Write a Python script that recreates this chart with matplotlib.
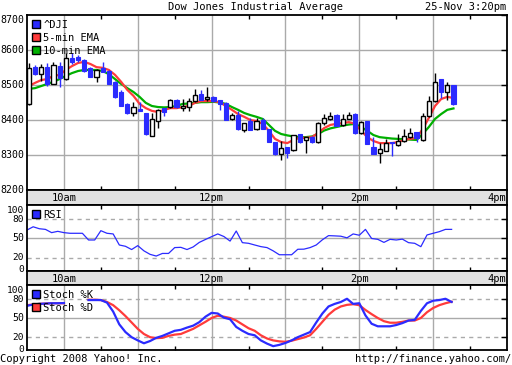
import numpy as np
import matplotlib
matplotlib.use('Agg')
import matplotlib.pyplot as plt
from matplotlib.patches import Patch

plt.rcParams['font.family'] = 'DejaVu Sans Mono'
plt.rcParams['font.size'] = 7

# 5-minute candles from 9:30, minutes after the open
opens = [8446, 8550, 8531, 8551, 8503, 8554, 8517, 8577, 8580, 8571,
         8549, 8524, 8548, 8541, 8509, 8481, 8445, 8419, 8431, 8419,
         8355, 8398, 8433, 8437, 8457, 8434, 8436, 8453, 8474, 8459,
         8466, 8457, 8449, 8402, 8414, 8370, 8398, 8374, 8400, 8374,
         8336, 8303, 8323, 8313, 8359, 8343, 8352, 8337, 8390, 8403,
         8414, 8386, 8402, 8417, 8362, 8397, 8324, 8305, 8312, 8338,
         8328, 8340, 8352, 8365, 8343, 8410, 8453, 8516, 8479, 8499]
highs = [8563, 8557, 8560, 8563, 8567, 8566, 8591, 8591, 8586, 8573,
         8551, 8545, 8566, 8543, 8510, 8486, 8448, 8452, 8451, 8421,
         8420, 8430, 8434, 8459, 8460, 8459, 8462, 8488, 8486, 8494,
         8468, 8457, 8450, 8421, 8427, 8392, 8407, 8406, 8406, 8375,
         8337, 8339, 8324, 8357, 8361, 8352, 8353, 8393, 8416, 8424,
         8416, 8417, 8424, 8420, 8397, 8398, 8350, 8333, 8345, 8338,
         8360, 8375, 8376, 8366, 8420, 8468, 8533, 8518, 8509, 8500]
lows = [8443, 8528, 8511, 8497, 8502, 8494, 8515, 8560, 8566, 8538,
        8524, 8509, 8536, 8502, 8464, 8440, 8416, 8412, 8426, 8358,
        8355, 8378, 8411, 8433, 8434, 8427, 8425, 8452, 8456, 8454,
        8451, 8429, 8399, 8401, 8372, 8366, 8370, 8371, 8373, 8336,
        8300, 8286, 8290, 8312, 8335, 8307, 8335, 8333, 8386, 8400,
        8384, 8384, 8402, 8360, 8360, 8330, 8302, 8278, 8310, 8297,
        8327, 8338, 8348, 8336, 8340, 8408, 8452, 8462, 8457, 8444]
closes = [8549, 8530, 8550, 8503, 8556, 8521, 8576, 8566, 8571, 8540,
          8524, 8543, 8537, 8503, 8465, 8440, 8419, 8436, 8426, 8360,
          8402, 8428, 8422, 8457, 8438, 8441, 8454, 8471, 8457, 8466,
          8453, 8445, 8400, 8414, 8373, 8390, 8372, 8398, 8374, 8336,
          8302, 8321, 8307, 8356, 8336, 8350, 8336, 8391, 8406, 8411,
          8384, 8402, 8414, 8362, 8395, 8330, 8303, 8317, 8333, 8335,
          8340, 8354, 8362, 8348, 8411, 8454, 8509, 8479, 8501, 8445]

ema5 = [8497, 8506, 8514, 8517, 8526, 8529, 8543, 8554, 8563, 8566,
        8560, 8551, 8549, 8543, 8529, 8509, 8486, 8469, 8446, 8434,
        8426, 8423, 8429, 8434, 8434, 8437, 8440, 8449, 8454, 8454,
        8454, 8451, 8440, 8429, 8417, 8409, 8400, 8397, 8389, 8369,
        8346, 8337, 8334, 8343, 8349, 8349, 8351, 8363, 8377, 8386,
        8389, 8391, 8394, 8389, 8369, 8351, 8340, 8334, 8334, 8334,
        8337, 8343, 8346, 8349, 8374, 8406, 8440, 8460, 8466, 8463]
ema10 = [8489, 8491, 8497, 8503, 8509, 8517, 8526, 8534, 8540, 8543,
         8543, 8543, 8540, 8531, 8517, 8503, 8491, 8480, 8466, 8449,
         8440, 8437, 8436, 8437, 8440, 8446, 8447, 8449, 8451, 8451,
         8452, 8450, 8446, 8437, 8429, 8420, 8414, 8409, 8403, 8386,
         8369, 8360, 8356, 8353, 8351, 8351, 8353, 8360, 8370, 8376,
         8380, 8384, 8387, 8389, 8380, 8369, 8357, 8351, 8349, 8347,
         8346, 8345, 8344, 8343, 8360, 8380, 8403, 8417, 8429, 8433]

rsi = [63, 68, 65, 64, 59, 61, 59, 58, 58, 58,
       47.7, 47.7, 62, 58, 57, 40, 38, 33, 39, 31,
       25.6, 23, 27, 27, 36, 36.4, 33, 37, 44, 48.5,
       52.8, 57, 53, 46, 61.5, 43.6, 42.6, 40, 37.5, 36,
       31, 25, 25, 25, 33.4, 33.6, 36, 40, 48, 54.4,
       54, 53.5, 51, 57, 55, 64, 50, 48.7, 44, 48.7,
       47.7, 49, 43.6, 42.6, 37.4, 55.4, 58, 60.5, 64, 64]

nan = np.nan
stoch_k = [69, 71, 72, 72.5, 73, 73, 73.3, nan, nan, nan,
           78, 78, 78, 74, 60, 40, 28, 20, 15, 10.5,
           14, 19, 22, 26, 30, 31.5, 35, 38, 43.5, 52,
           58, 57, 50.5, 48, 36, 30, 25, 23, 15, 10,
           6, 8, 11, 15, 20, 24, 28, 43, 57, 68,
           72, 75, 80, 72, 73, 54, 41, 37, 37, 37,
           39, 42, 46, 47, 61, 73, 77, 78, 80, 75]
stoch_d = [70, 71, 72, 72.5, 73, 73, 73, nan, nan, nan,
           78.5, 78.5, 78, 75, 70, 62, 53, 43, 33, 25,
           20, 18.5, 19, 22, 24, 25, 29, 33, 38.5, 44,
           50, 53.5, 52, 50, 46, 40, 34, 30, 23, 18,
           15, 13.5, 12.8, 14.5, 17, 19.5, 23, 33, 44, 55,
           63, 68, 70.5, 71.5, 70, 62.5, 56, 50, 45, 42.6,
           42.6, 44, 46, 46, 50, 59, 65.6, 70, 73, 75.4]

hour_ticks = [30, 90, 150, 210, 270, 330]
half_ticks = [60, 120, 180, 240, 300, 360]
band_labels = {30: '10am', 150: '12pm', 270: '2pm'}

t = np.arange(len(opens)) * 5
tc = t + 1.5

W, H = 512, 365
FS = 7.1
fig = plt.figure(figsize=(W / 100, H / 100), dpi=100)


def rect(l, tp, r, b):
    return [l / W, 1 - b / H, (r - l) / W, (b - tp) / H]


grid_c = '#aaaaaa'
blue = '#2b2bff'
red = '#ff3b3b'
green = '#00b000'


def frame(ax):
    ax.set_xlim(0, 390)
    for s in ax.spines.values():
        s.set_linewidth(1.3)
    ax.set_xticks(hour_ticks)
    ax.set_xticks(half_ticks, minor=True)
    ax.tick_params(axis='x', which='both', direction='in', top=True, bottom=True,
                   length=3, width=1, labelbottom=False)
    ax.tick_params(axis='x', which='major', length=0)
    for h in hour_ticks:
        ax.axvline(h, color=grid_c, lw=1, zorder=0)


def ylab(txt, ypx, fs=FS):
    fig.text(24 / W, 1 - ypx / H, txt, ha='right', va='center', fontsize=fs)


# main price panel
ax = fig.add_axes(rect(27, 15, 507, 190))
frame(ax)
ax.set_ylim(8200, 8700)
yt = list(range(8200, 8701, 100))
ax.set_yticks(yt)
ax.tick_params(axis='y', left=False, right=True, direction='in', length=4,
               width=1, labelleft=False)
for v in yt[1:-1]:
    ax.axhline(v, color=grid_c, lw=1, zorder=0)
for v in yt[:-1]:
    ylab(str(v), 190 - (v - 8200) * 0.35)
ylab('8700', 20)

ax.plot(tc, ema10, color=green, lw=1.6, zorder=2)
ax.plot(tc, ema5, color=red, lw=1.6, zorder=2)

o = np.array(opens)
c = np.array(closes)
up = c >= o
ax.vlines(tc[up], np.array(lows)[up], np.array(highs)[up], color='black', lw=1, zorder=3)
ax.vlines(tc[~up], np.array(lows)[~up], np.array(highs)[~up], color=blue, lw=1, zorder=3)
ax.bar(tc[up], np.maximum(c - o, 1)[up], bottom=o[up], width=3.4,
       facecolor='white', edgecolor='black', lw=1, zorder=4)
ax.bar(tc[~up], (o - c)[~up], bottom=c[~up], width=3.4,
       facecolor=blue, edgecolor=blue, lw=0.8, zorder=4)

leg_kw = dict(loc='upper left', frameon=False, handlelength=0.75, handleheight=0.75,
              handletextpad=0.35, labelspacing=0.3, borderaxespad=0.15, borderpad=0.3,
              fontsize=7.5)
ax.legend([Patch(fc=blue, ec='black'), Patch(fc=red, ec='black'), Patch(fc=green, ec='black')],
          ['^DJI', '5-min EMA', '10-min EMA'], **leg_kw)


def band(tp, b):
    bx = fig.add_axes(rect(27, tp, 507, b))
    bx.set_facecolor('#e2e2e2')
    bx.set_xlim(0, 390)
    bx.set_ylim(0, 1)
    bx.set_xticks([])
    bx.set_yticks([])
    for s in bx.spines.values():
        s.set_linewidth(1.3)
    for k, lab in band_labels.items():
        bx.text(k, 0.45, lab, ha='center', va='center', fontsize=7.5)
    bx.text(389, 0.45, '4pm', ha='right', va='center', fontsize=7.5)
    return bx


band(190, 205)


def osc(tp, b):
    a = fig.add_axes(rect(27, tp, 507, b))
    frame(a)
    a.set_ylim(0, 101.5)
    a.set_yticks([20, 50, 80])
    a.tick_params(axis='y', left=False, right=True, direction='in', length=4,
                  width=1, labelleft=False)
    a.axhline(50, color=grid_c, lw=1, zorder=0)
    for v in (20, 80):
        a.axhline(v, color=grid_c, lw=1, ls=(0, (3, 3)), zorder=0)
    ylab('100', tp + 5.5, 6.8)
    ylab('80', tp + 14.5, 6.8)
    ylab('50', tp + 33)
    ylab('20', tp + 53, 6.8)
    ylab('0', tp + 64, 6.8)
    return a


ar = osc(205, 271)
ar.plot(t, rsi, color=blue, lw=0.9)
ar.legend([Patch(fc=blue, ec='black')], ['RSI'], **leg_kw)

band(271, 285)

ast = osc(285, 350)
ast.plot(t, stoch_d, color=red, lw=1.6)
ast.plot(t, stoch_k, color=blue, lw=1.6)
ast.legend([Patch(fc=blue, ec='black'), Patch(fc=red, ec='black')],
           ['Stoch %K', 'Stoch %D'], **leg_kw)

fig.text(255.5 / W, 1 - 7 / H, 'Dow Jones Industrial Average', ha='center', va='center', fontsize=7.5)
fig.text(506 / W, 1 - 7 / H, '25-Nov 3:20pm', ha='right', va='center', fontsize=7.5)
fig.text(0 / W, 1 - 359 / H, 'Copyright 2008 Yahoo! Inc.', ha='left', va='center', fontsize=7.5)
fig.text(511 / W, 1 - 359 / H, 'http://finance.yahoo.com/', ha='right', va='center', fontsize=7.5)

fig.savefig('out.png', dpi=100)
